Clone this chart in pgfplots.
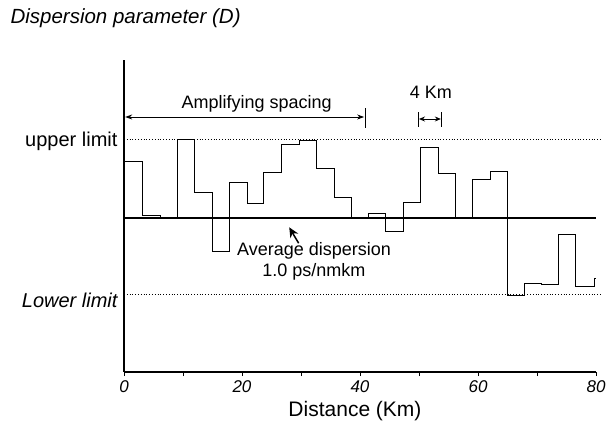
\documentclass[border=0pt]{standalone}
\usepackage{pgfplots}
\pgfplotsset{compat=1.18}
\usetikzlibrary{arrows.meta}
\usepackage{fontspec}
\setmainfont{Liberation Sans}
\begin{document}
\begin{tikzpicture}[x=1pt,y=1pt]
\path[use as bounding box] (-124,-64) rectangle (483,372);
\begin{axis}[at={(0,0)},anchor=south west,scale only axis,width=472pt,height=312pt,
  xmin=0,xmax=80,ymin=0,ymax=312,
  axis x line*=bottom, axis y line*=left,
  axis line style={line width=1.3pt},
  xtick={0,10,...,80}, xticklabels={0,,20,,40,,60,,80},
  ytick=\empty, tick align=outside, major tick length=4pt,
  tick style={black,line width=1pt},
  /pgf/number format/assume math mode=true,
  xticklabel style={font=\fontsize{17}{17}\selectfont\itshape, yshift=-1pt},
  clip=false]
\addplot[dotted, black, line width=0.8pt] coordinates {(0,233) (80.7,233)};
\addplot[dotted, black, line width=0.8pt] coordinates {(0,78) (80.7,78)};
\addplot[black, line width=1.7pt] coordinates {(0,154) (80,154)};
\addplot[const plot, black, line width=0.95pt] coordinates {
(0,211) (3.2,157) (6.1,154) (9.0,233) (11.9,180) (15.0,121) (17.8,190)
(20.9,169) (23.7,200) (26.7,228) (29.7,232) (32.7,204) (35.6,175)
(38.6,154) (41.4,159) (44.4,141) (47.3,170) (50.3,225) (53.3,199)
(56.2,154) (59.1,193) (62.1,201) (65.0,77) (67.9,89) (70.8,88)
(73.7,138) (76.6,86) (79.7,94) (80,94)};
% amplifying spacing
\draw[{Stealth[length=7pt,width=5pt]}-{Stealth[length=7pt,width=5pt]}, line width=0.9pt] (axis cs:0.2,255) -- (axis cs:40.7,255);
\draw[line width=1.1pt] (axis cs:41,244) -- (axis cs:41,264);
\node[font=\fontsize{18}{18}\selectfont] at (axis cs:22.5,268) {Amplifying spacing};
% 4 km
\draw[line width=1.1pt] (axis cs:49.9,245) -- (axis cs:49.9,260);
\draw[line width=1.1pt] (axis cs:53.8,245) -- (axis cs:53.8,260);
\draw[{Stealth[length=6pt,width=5pt]}-{Stealth[length=6pt,width=5pt]}, line width=0.9pt] (axis cs:50.0,253) -- (axis cs:53.7,253);
\node[font=\fontsize{18}{18}\selectfont] at (axis cs:52.0,280) {4 Km};
% average
\draw[-{Stealth[length=10pt,width=9pt]}, line width=1.5pt] (axis cs:29.6,128.8) -- (axis cs:28.0,144.7);
\node[font=\fontsize{18}{21}\selectfont, align=center] at (axis cs:32.2,110.5) {Average dispersion\\1.0 ps/nmkm};
\end{axis}
\node[anchor=east, font=\fontsize{20}{20}\selectfont] at (-3,231) {upper limit};
\node[anchor=east, font=\fontsize{20}{20}\selectfont\itshape] at (-3,72) {Lower limit};
\node[anchor=west, font=\fontsize{20.5}{20}\selectfont\itshape] at (-117,354) {Dispersion parameter (D)};
\node[font=\fontsize{21}{21}\selectfont] at (231,-39) {Distance (Km)};
\end{tikzpicture}
\end{document}
